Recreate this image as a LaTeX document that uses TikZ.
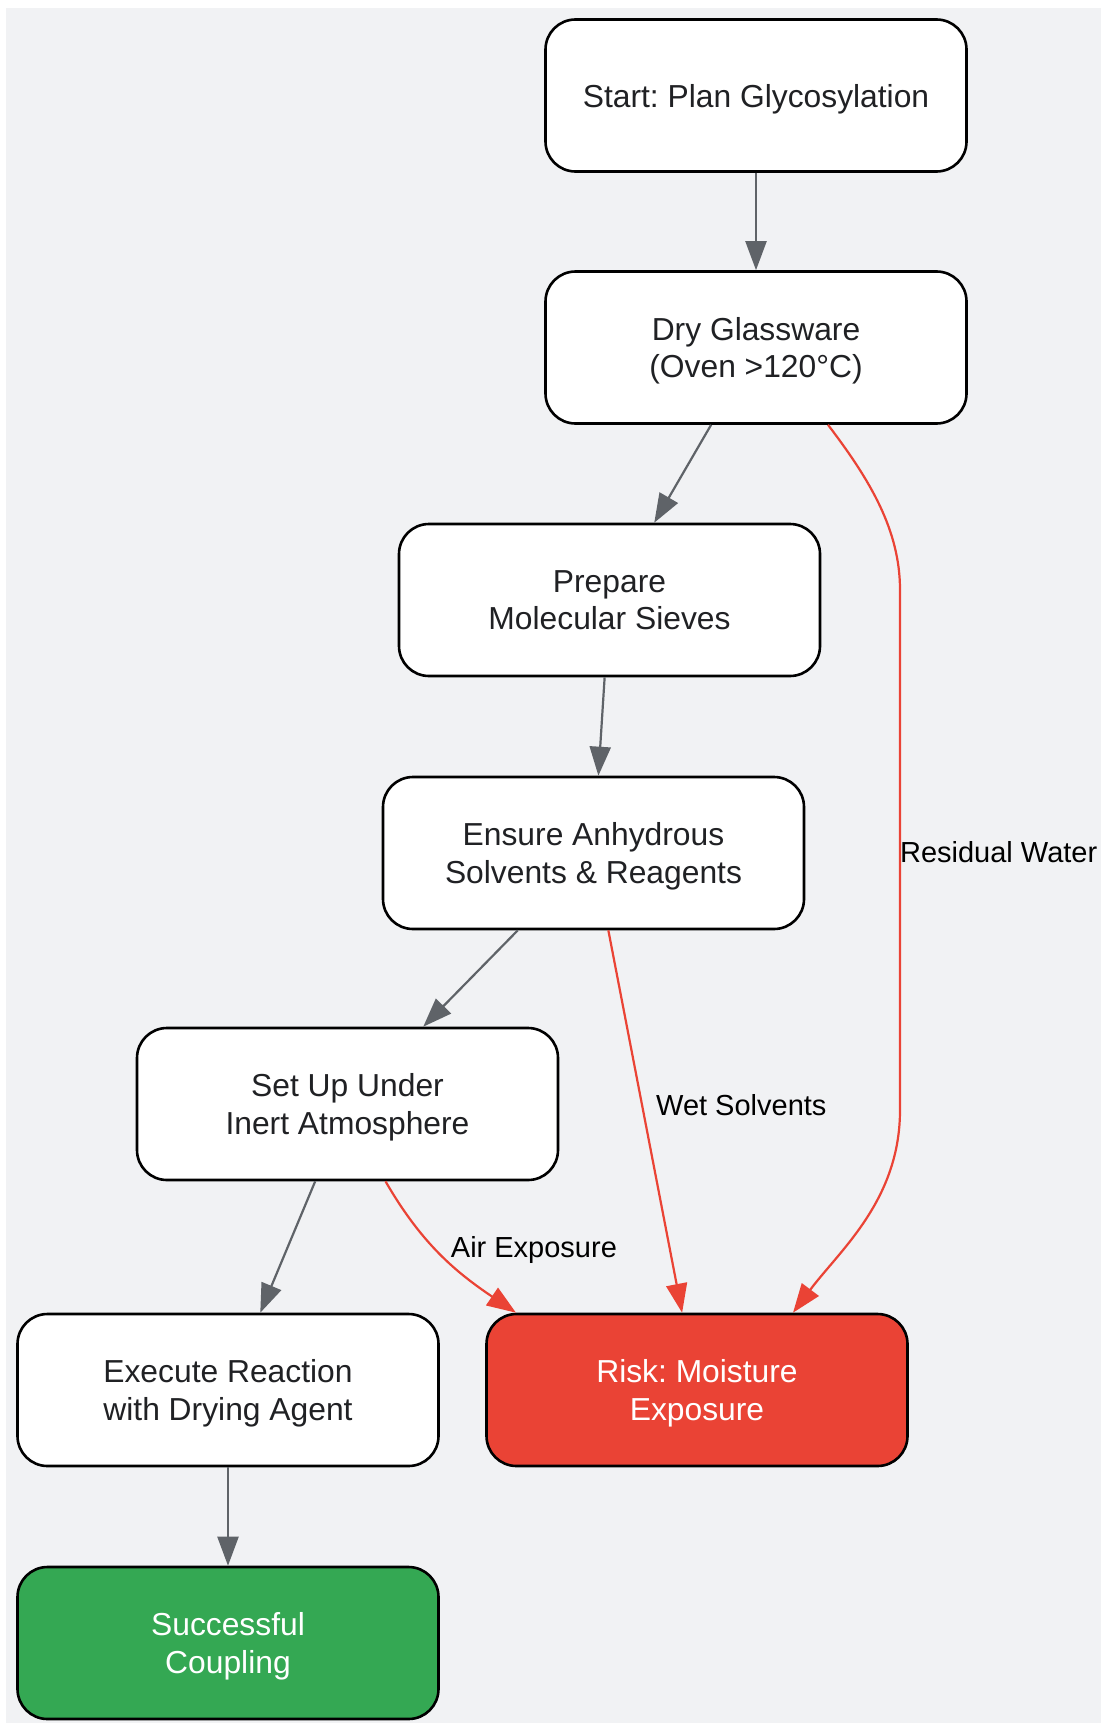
\documentclass[tikz,border=0pt]{standalone}
\usepackage{fontspec}
\setmainfont{Liberation Sans}
\usepackage{xcolor}
\usetikzlibrary{arrows.meta,positioning}
\frenchspacing
\definecolor{pagebg}{HTML}{F1F2F4}
\definecolor{edgegrey}{HTML}{5F6368}
\definecolor{riskred}{HTML}{EA4335}
\definecolor{okgreen}{HTML}{34A853}
\definecolor{textgrey}{HTML}{202124}
\tikzset{%
	stage/.style     = {draw, rectangle, rounded corners=30pt, line width=2.6pt, fill=white, minimum width=421pt, minimum height=152pt, align=center, text depth=-1pt, text=textgrey, font=\fontsize{31.8}{37.5}\selectfont},
	riskstage/.style = {stage, fill=riskred, text=white},
	donestage/.style = {stage, fill=okgreen, text=white},
	arrow/.style     = {line width=2.2pt, draw=edgegrey, -{Triangle[length=29pt,width=21pt]}},
	riskarrow/.style = {arrow, draw=riskred},
	edgelabel/.style = {inner sep=0pt, text=black, font=\fontsize{29}{34}\selectfont},
}
\begin{document}
\begin{tikzpicture}[x=1pt,y=-1pt]
		\useasboundingbox (0,0) rectangle (1101,1723);
		\fill[pagebg] (6,8) rectangle (1101,1723);
		
		\node[stage] (start) at (756,95.5) {Start: Plan Glycosylation};
		\node[stage] (dry) at (756,347.5) {Dry Glassware\\(Oven >120°C)};
		\node[stage] (sieves) at (609.5,600) {Prepare\\Molecular Sieves};
		\node[stage] (solvents) at (593.5,853) {Ensure Anhydrous\\Solvents \& Reagents};
		\node[stage] (inert) at (347.5,1104) {Set Up Under\\Inert Atmosphere};
		\node[stage] (execute) at (228,1390) {Execute Reaction\\with Drying Agent};
		\node[riskstage] (risk) at (697,1390) {Risk: Moisture\\Exposure};
		\node[donestage] (success) at (228,1643) {Successful\\Coupling};
		
		\draw[arrow] (start) -- (dry);
		\draw[arrow] (dry) -- (sieves);
		\draw[arrow] (sieves) -- (solvents);
		\draw[arrow] (solvents) -- (inert);
		\draw[arrow] (inert) -- (execute);
		\draw[arrow] (execute) -- (success);
		
		\draw[riskarrow] (solvents) -- node[edgelabel, pos=0.457, right=13pt] (wetlbl) {Wet Solvents} (risk);
		\draw[riskarrow] ([xshift=38pt]inert.south) to[out=-60,in=146] node[edgelabel, pos=0.5, anchor=west, xshift=8pt, yshift=5pt] (airlbl) {Air Exposure} ([xshift=-181pt]risk.north);
		\draw[riskarrow] ([xshift=72pt]dry.south) .. controls (870,480) and (900,530) .. (900,590) -- node[edgelabel, pos=0.505, anchor=west, xshift=-1pt] (waterlbl) {Residual Water} (900,1110) .. controls (900,1200) and (840,1250) .. ([xshift=96pt]risk.north);
\end{tikzpicture}
\end{document}
